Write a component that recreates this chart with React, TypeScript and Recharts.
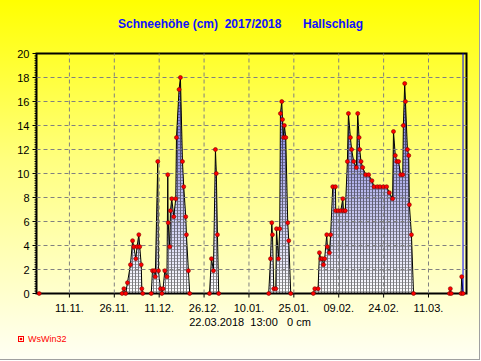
import { AreaChart, Area, XAxis, YAxis, ReferenceLine, ReferenceArea } from "recharts";

// x axis labels (dates of the season 2017/2018)
const tickLabels = ["11.11.", "26.11.", "11.12.", "26.12.", "10.01.", "25.01.", "09.02.", "24.02.", "11.03."];
const yTicks = [0, 2, 4, 6, 8, 10, 12, 14, 16, 18, 20];

// readings: days since 31.10.2017 00:00, snow depth in cm
const dayOffset = [
  0.9, 28.6, 29.2, 29.8, 30.4, 31.4, 32.1, 32.5, 33.2, 33.6, 34.2, 34.5, 35.0, 35.2, 35.5,
  38.35, 38.76, 39.42, 39.7, 40.53, 40.76, 41.43, 41.9, 42.3, 42.87, 43.6, 43.87, 44.0, 44.54, 44.77,
  45.2, 45.87, 46.54, 46.78, 47.64, 48.1, 48.78, 49.2, 49.88, 50.1, 50.77, 51.2,
  57.8, 58.47, 59.14, 59.8, 60.1, 60.47, 60.9,
  77.6, 78.2, 78.63, 78.86, 79.3, 79.96, 80.2, 80.85, 81.29, 81.52, 81.96, 82.2, 82.6, 82.84, 83.3, 83.96, 84.3, 84.97,
  92.5, 93.0, 94.1, 94.55, 95.0, 95.5, 95.9, 96.3, 97.0, 97.2, 97.9, 98.3, 99.0, 99.9, 100.0, 100.8, 101.7,
  102.35, 102.6, 103.2, 103.9, 104.24, 104.9, 105.3, 106.0, 106.9, 107.35, 107.8, 108.0, 108.45, 109.0,
  110.0, 111.0, 112.1, 112.8, 113.9, 114.8, 115.9, 117.0, 117.9, 119.0, 119.3, 119.9, 120.4, 121.0,
  121.7, 122.4, 122.6, 123.05, 123.3, 123.96, 124.4, 124.6, 125.3, 126.0,
  138.0, 138.3, 138.6, 141.9, 142.1, 142.54,
];
const snowCm = [
  0, 0, 0.4, 0, 0.9, 2.4, 4.4, 3.9, 2.9, 3.9, 4.9, 3.9, 2.4, 0.4, 0,
  0, 1.9, 1.9, 1.4, 11.0, 1.9, 0.4, 0, 0.4, 1.9, 1.4, 9.9, 5.9, 3.9, 6.9,
  7.9, 6.4, 7.9, 13.0, 17.0, 18.0, 11.0, 8.9, 6.4, 4.9, 1.9, 0,
  0, 2.9, 1.9, 12.0, 10.0, 4.9, 0,
  0, 2.9, 5.9, 4.9, 0.4, 0.4, 5.4, 2.9, 5.4, 15.0, 16.0, 14.5, 13.0, 14.0, 13.0, 5.9, 4.4, 0,
  0, 0.4, 0.4, 3.4, 2.9, 2.9, 2.4, 2.9, 4.9, 3.9, 3.4, 4.9, 8.9, 8.9, 6.9, 6.9, 6.9,
  7.9, 6.9, 6.9, 11.0, 15.0, 13.0, 12.0, 11.0, 10.5, 15.0, 13.0, 12.0, 11.0, 10.5,
  9.9, 9.9, 9.4, 8.9, 8.9, 8.9, 8.9, 8.9, 8.4, 7.9, 13.5, 11.5, 11.0, 11.0,
  9.9, 9.9, 14.0, 17.5, 16.0, 12.0, 11.5, 7.4, 4.9, 0,
  0, 0.4, 0, 0, 1.4, 0,
];

const nowDay = 142.54; // 22.03.2018 13:00
const domainEnd = 143.7;

const data = dayOffset.map((d, i) => ({ day: d, cm: snowCm[i] }));

const seasonStart = Date.UTC(2017, 9, 31);
const labelDay = (s: string) => {
  const [dd, mm] = s.split(".").map(Number);
  const year = mm >= 10 ? 2017 : 2018;
  return Math.round((Date.UTC(year, mm - 1, dd) - seasonStart) / 86400000);
};
const majorDays = tickLabels.map(labelDay);

const yMinor: number[] = [];
for (let i = 0; i <= 100; i++) yMinor.push(Math.round(i * 2) / 10);

const font = "Arial, 'Liberation Sans', sans-serif";

const YTick = (props: any) => {
  const { x, y, payload } = props;
  const v = payload.value;
  const major = yTicks.includes(v);
  return (
    <g>
      <line x1={major ? x - 4 : x - 2} x2={x} y1={y} y2={y} stroke="#000" strokeWidth={1} />
      {major && (
        <text x={x - 7} y={y + 4} textAnchor="end" fontSize={11} fontFamily={font} fill="#000">
          {v}
        </text>
      )}
    </g>
  );
};

const XTick = (props: any) => {
  const { x, y, payload } = props;
  const idx = majorDays.indexOf(payload.value);
  return (
    <g>
      <line x1={x} x2={x} y1={y} y2={y + 4} stroke="#000" strokeWidth={1} />
      {idx >= 0 && (
        <text x={x} y={y + 18.5} textAnchor="middle" fontSize={11} fontFamily={font} fill="#000">
          {tickLabels[idx]}
        </text>
      )}
    </g>
  );
};

export default function App() {
  return (
    <div style={{ position: "relative", width: 481, height: 361, background: "#fff" }}>
      <style>{`body{margin:0}`}</style>
      <div
        style={{
          position: "absolute",
          left: 0,
          top: 0,
          width: 480,
          height: 360,
          boxSizing: "border-box",
          borderRight: "1px solid #a0a0a0",
          borderBottom: "1px solid #a0a0a0",
          background: "linear-gradient(to bottom, #ffff00 0%, #ffff80 45%, #fffff4 100%)",
        }}
      />
      <div style={{ position: "absolute", left: 0, top: 0 }}>
        <AreaChart width={481} height={361} data={data} margin={{ top: 53.5, right: 14.5, bottom: 37.5, left: 0 }}>
          <defs>
            <linearGradient id="snowFill" x1="0" y1="0" x2="0" y2="1">
              <stop offset="0%" stopColor="#6a6ad8" />
              <stop offset="100%" stopColor="#ffffff" />
            </linearGradient>
            <pattern id="hatch" width="3" height="3" patternUnits="userSpaceOnUse">
              <rect x="0" y="0" width="1" height="3" fill="#000" fillOpacity={0.5} />
              <rect x="1" y="0" width="2" height="1" fill="#000" fillOpacity={0.3} />
            </pattern>
          </defs>
          <XAxis
            dataKey="day"
            type="number"
            domain={[0, domainEnd]}
            ticks={majorDays}
            interval={0}
            allowDataOverflow
            axisLine={false}
            tickLine={false}
            tickSize={0}
            tickMargin={0}
            height={30}
            tick={<XTick />}
          />
          <YAxis
            type="number"
            domain={[0, 20]}
            ticks={yMinor}
            interval={0}
            axisLine={false}
            tickLine={false}
            tickSize={0}
            tickMargin={0}
            width={36.5}
            tick={<YTick />}
          />
          {yTicks
            .filter((v) => v > 0 && v < 20)
            .map((v) => (
              <ReferenceLine key={`h${v}`} y={v} stroke="#808080" strokeDasharray="4 3" />
            ))}
          {majorDays.map((d) => (
            <ReferenceLine key={`v${d}`} x={d} stroke="#808080" strokeDasharray="4 3" />
          ))}
          <Area
            type="linear"
            dataKey="cm"
            stroke="none"
            fill="url(#snowFill)"
            fillOpacity={1}
            dot={false}
            activeDot={false}
            isAnimationActive={false}
          />
          <Area
            type="linear"
            dataKey="cm"
            stroke="#000"
            strokeWidth={1}
            fill="url(#hatch)"
            fillOpacity={1}
            dot={{ r: 2, fill: "#ff0000", stroke: "#800000", strokeWidth: 0.6, fillOpacity: 1 }}
            activeDot={false}
            isAnimationActive={false}
          />
          <ReferenceLine x={nowDay} stroke="#0000ff" strokeWidth={1} />
          <ReferenceArea x1={0} x2={domainEnd} y1={0} y2={20} fill="none" stroke="#000" strokeWidth={2} ifOverflow="visible" />
        </AreaChart>
      </div>
      <svg width={481} height={361} style={{ position: "absolute", left: 0, top: 0, pointerEvents: "none" }}>
        <text x={118} y={28} fontSize={12} fontWeight="bold" fontFamily={font} fill="#1010ff" style={{ whiteSpace: "pre" }}>
          {"Schneehöhe (cm)  2017/2018"}
        </text>
        <text x={303} y={28} fontSize={12} fontWeight="bold" fontFamily={font} fill="#1010ff">
          Hallschlag
        </text>
        <text x={250} y={326} textAnchor="middle" fontSize={11} fontFamily={font} fill="#000" style={{ whiteSpace: "pre" }}>
          {"22.03.2018  13:00   0 cm"}
        </text>
        <rect x={18.5} y={336.5} width={5} height={5} fill="none" stroke="#ff0000" strokeWidth={1} />
        <circle cx={21} cy={339} r={1.3} fill="#ff0000" />
        <text x={28} y={342} fontSize={9} fontFamily={font} fill="#ff0000">
          WsWin32
        </text>
      </svg>
    </div>
  );
}
